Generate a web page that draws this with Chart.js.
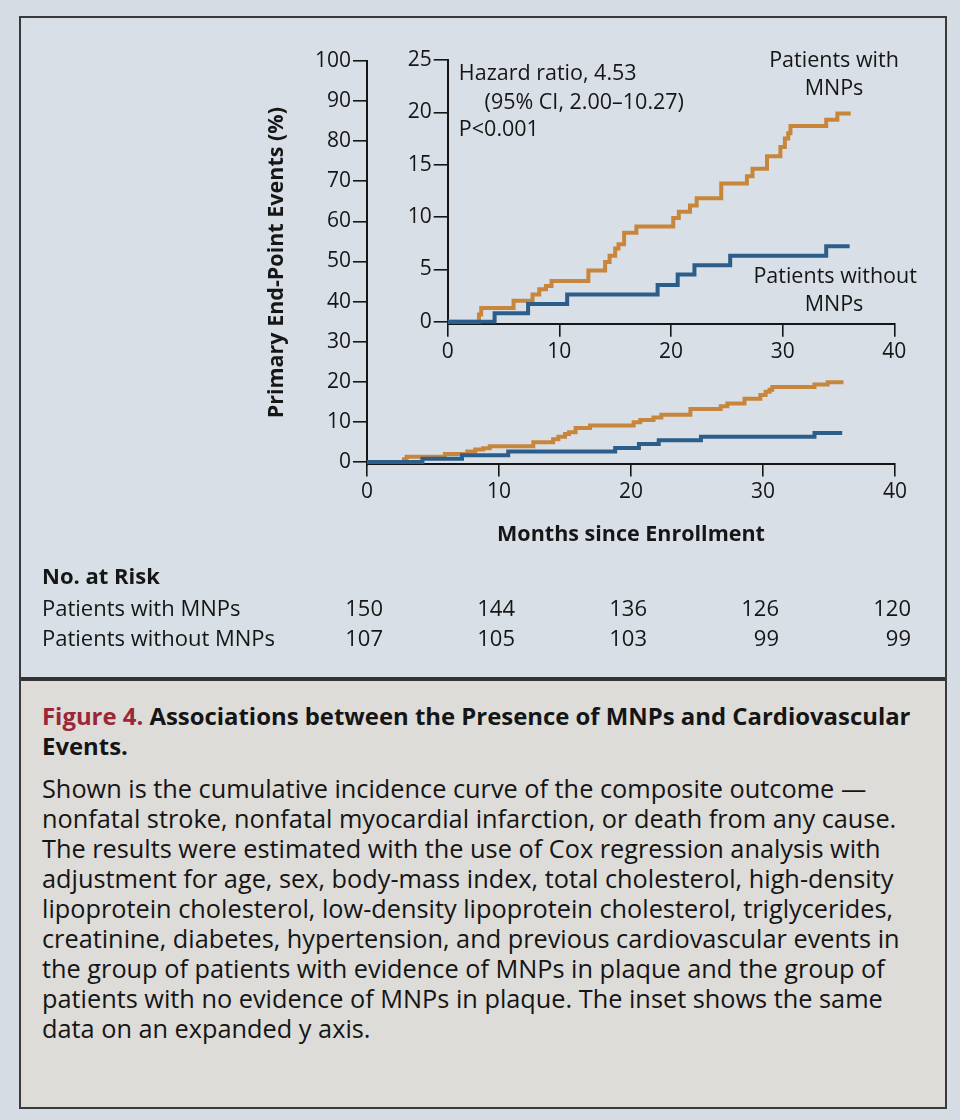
<!DOCTYPE html>
<html>
<head>
<meta charset="utf-8">
<title>Figure 4</title>
<script src="https://cdn.jsdelivr.net/npm/chart.js@4.4.1/dist/chart.umd.min.js"></script>
<style>
  html, body { margin: 0; padding: 0; }
  body {
    width: 960px; height: 1120px; position: relative; overflow: hidden;
    background: #d6dce3; color: #151515;
    font-family: "Open Sans", sans-serif;
  }
  .frame {
    position: absolute; left: 19px; top: 16px; width: 924px; height: 1089px;
    border: 2px solid #3a3a3a; background: #d9dfe6;
  }
  .caption {
    position: absolute; left: 21px; top: 677px; width: 924px; height: 430px;
    box-sizing: border-box; background: #dddcd9; border-top: 4px solid #333;
    padding: 20px 0 0 21px;
  }
  .caption .title { font-weight: bold; font-size: 23.9px; line-height: 30px; }
  .caption .title .fig { color: #9b2637; }
  .caption .body { font-size: 25.3px; line-height: 30px; margin-top: 12px; }
  canvas { position: absolute; }
  #main { left: 0; top: 0; }
  #inset { left: 380px; top: 30px; }
</style>
</head>
<body>
<div class="frame"></div>
<div class="caption">
  <div class="title"><span class="fig">Figure 4.</span> Associations between the Presence of MNPs and Cardiovascular<br>Events.</div>
  <div class="body">Shown is the cumulative incidence curve of the composite outcome —<br>nonfatal stroke, nonfatal myocardial infarction, or death from any cause.<br>The results were estimated with the use of Cox regression analysis with<br>adjustment for age, sex, body-mass index, total cholesterol, high-density<br>lipoprotein cholesterol, low-density lipoprotein cholesterol, triglycerides,<br>creatinine, diabetes, hypertension, and previous cardiovascular events in<br>the group of patients with evidence of MNPs in plaque and the group of<br>patients with no evidence of MNPs in plaque. The inset shows the same<br>data on an expanded y axis.</div>
</div>
<canvas id="main" width="960" height="680"></canvas>
<canvas id="inset" width="560" height="350"></canvas>
<script>
// step times (months) and cumulative incidence (%)
const withMonths = [0, 2.8, 3.0, 5.9, 7.6, 8.2, 8.8, 9.3, 12.6, 14.1, 14.5, 15.0, 15.3, 15.8, 16.9, 20.2, 20.7, 21.7, 22.3, 24.5, 26.8, 27.3, 28.6, 29.8, 30.2, 30.5, 30.7, 33.9, 34.9, 36.1];
const withPct = [0, 0.7, 1.3, 2.0, 2.6, 3.1, 3.4, 3.9, 4.9, 5.7, 6.3, 7.0, 7.4, 8.5, 9.1, 9.9, 10.5, 11.1, 11.8, 13.2, 13.9, 14.6, 15.8, 16.7, 17.5, 18.0, 18.7, 19.3, 19.9, 19.9];
const withoutMonths = [0, 4.2, 7.2, 10.7, 18.8, 20.6, 22.1, 25.3, 33.9, 36.0];
const withoutPct = [0, 0.8, 1.7, 2.6, 3.5, 4.5, 5.4, 6.3, 7.2, 7.2];

// number at risk
const riskMonths = [0, 10, 20, 30, 40];
const riskWith = [150, 144, 136, 126, 120];
const riskWithout = [107, 105, 103, 99, 99];

// tick labels
const xTicks = [0, 10, 20, 30, 40];
const mainYTicks = [0, 10, 20, 30, 40, 50, 60, 70, 80, 90, 100];
const insetYTicks = [0, 5, 10, 15, 20, 25];

const orange = "#c8863c";
const blue = "#2c5e8b";
const ink = "#161616";
const fam = '"Open Sans", sans-serif';

Chart.defaults.font.family = fam;
Chart.defaults.color = ink;

function toPoints(xs, ys) {
  return xs.map((x, i) => ({ x: x, y: ys[i] }));
}

function makeDatasets() {
  return [
    {
      label: "Patients without MNPs",
      data: toPoints(withoutMonths, withoutPct),
      borderColor: blue, borderWidth: 4, stepped: "before",
      pointRadius: 0, fill: false, order: 0,
    },
    {
      label: "Patients with MNPs",
      data: toPoints(withMonths, withPct),
      borderColor: orange, borderWidth: 4, stepped: "before",
      pointRadius: 0, fill: false, order: 1,
    },
  ];
}

function axisStyle(tickLen) {
  return {
    grid: { drawOnChartArea: false, drawTicks: true, tickLength: tickLen, color: ink, lineWidth: 1.6 },
    border: { display: true, color: ink, width: 2 },
  };
}

// table under the main chart, aligned to the x scale
const riskTable = {
  id: "riskTable",
  afterDraw(chart) {
    const ctx = chart.ctx;
    const x = chart.scales.x;
    ctx.save();
    ctx.fillStyle = ink;
    ctx.textBaseline = "middle";
    ctx.textAlign = "left";
    ctx.font = "bold 22px " + fam;
    ctx.fillText("No. at Risk", 42, 578);
    ctx.font = "22px " + fam;
    ctx.fillText("Patients with MNPs", 42, 610);
    ctx.fillText("Patients without MNPs", 42, 640);
    ctx.textAlign = "right";
    riskMonths.forEach((m, i) => {
      const px = x.getPixelForValue(m) + 16;
      ctx.fillText(String(riskWith[i]), px, 610);
      ctx.fillText(String(riskWithout[i]), px, 640);
    });
    ctx.restore();
  },
};

// hazard ratio note and curve names inside the inset
const insetNotes = {
  id: "insetNotes",
  afterDraw(chart) {
    const ctx = chart.ctx;
    const { x, y } = chart.scales;
    ctx.save();
    ctx.fillStyle = ink;
    ctx.textBaseline = "middle";
    ctx.font = "21.5px " + fam;
    ctx.textAlign = "left";
    ctx.fillText("Hazard ratio, 4.53", x.getPixelForValue(1.0), y.getPixelForValue(23.7));
    ctx.fillText("(95% CI, 2.00–10.27)", x.getPixelForValue(3.3), y.getPixelForValue(20.9));
    ctx.fillText("P<0.001", x.getPixelForValue(1.0), y.getPixelForValue(18.3));
    ctx.textAlign = "center";
    ctx.fillText("Patients with", x.getPixelForValue(34.6), y.getPixelForValue(24.9));
    ctx.fillText("MNPs", x.getPixelForValue(34.6), y.getPixelForValue(22.2));
    ctx.fillText("Patients without", x.getPixelForValue(34.7), y.getPixelForValue(4.3));
    ctx.fillText("MNPs", x.getPixelForValue(34.6), y.getPixelForValue(1.6));
    ctx.restore();
  },
};

// main chart, 0-100 %
new Chart(document.getElementById("main"), {
  type: "line",
  data: { datasets: makeDatasets() },
  plugins: [riskTable],
  options: {
    responsive: false,
    animation: false,
    layout: { padding: { left: 0, right: 65, top: 61, bottom: 0 } },
    plugins: { legend: { display: false }, tooltip: { enabled: false } },
    scales: {
      x: {
        type: "linear", min: 0, max: 40,
        afterBuildTicks: (s) => { s.ticks = xTicks.map((v) => ({ value: v })); },
        afterFit: (s) => { s.height = 215.6; },
        ticks: { font: { size: 21 }, padding: 3, maxRotation: 0 },
        title: {
          display: true, text: "Months since Enrollment",
          font: { size: 21.5, weight: "bold" }, padding: { top: 0, bottom: 132 },
        },
        ...axisStyle(12),
      },
      y: {
        min: -0.6, max: 100,
        afterBuildTicks: (s) => { s.ticks = mainYTicks.map((v) => ({ value: v })); },
        afterFit: (s) => { s.width = 367; },
        ticks: { font: { size: 21 }, padding: 2 },
        title: {
          display: true, text: "Primary End-Point Events (%)",
          font: { size: 21.5, weight: "bold" }, padding: { top: 264, bottom: 0 },
        },
        ...axisStyle(14),
      },
    },
  },
});

// inset, same data on 0-25 %
new Chart(document.getElementById("inset"), {
  type: "line",
  data: { datasets: makeDatasets() },
  plugins: [insetNotes],
  options: {
    responsive: false,
    animation: false,
    layout: { padding: { left: 0, right: 45.7, top: 30, bottom: 0 } },
    plugins: { legend: { display: false }, tooltip: { enabled: false } },
    scales: {
      x: {
        type: "linear", min: 0, max: 40,
        afterBuildTicks: (s) => { s.ticks = xTicks.map((v) => ({ value: v })); },
        afterFit: (s) => { s.height = 56.2; },
        ticks: { font: { size: 21 }, padding: 3, maxRotation: 0 },
        ...axisStyle(13),
      },
      y: {
        min: -0.2, max: 25,
        afterBuildTicks: (s) => { s.ticks = insetYTicks.map((v) => ({ value: v })); },
        afterFit: (s) => { s.width = 67.7; },
        ticks: { font: { size: 21 }, padding: 2 },
        ...axisStyle(14),
      },
    },
  },
});
</script>
</body>
</html>
